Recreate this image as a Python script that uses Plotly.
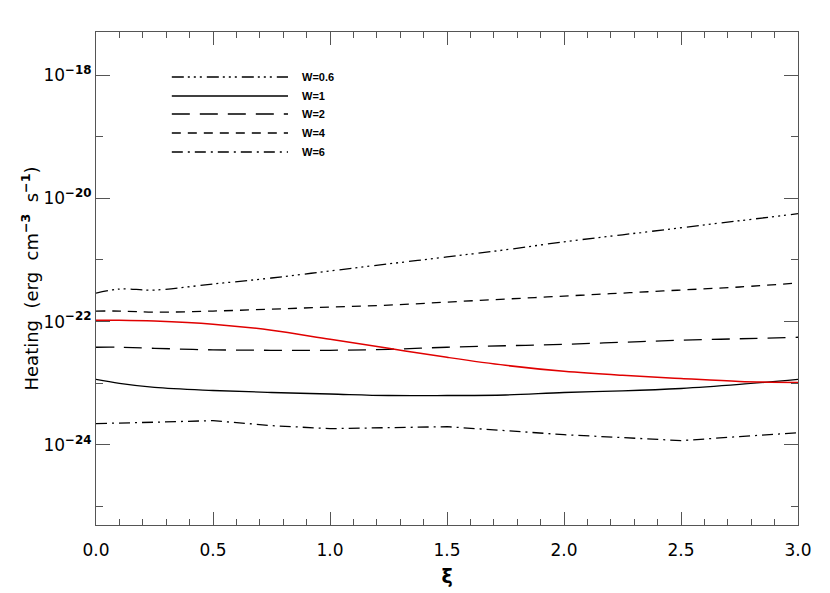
import plotly.graph_objects as go

# xi grid shared by all curves
xi = [0.0, 0.1, 0.25, 0.5, 0.75, 1.0, 1.25, 1.5, 1.75, 2.0, 2.25, 2.5, 2.75, 3.0]

# heating rates (erg cm^-3 s^-1)
heat_w06 = [2.90e-22, 3.37e-22, 3.25e-22, 4.07e-22, 5.09e-22, 6.63e-22, 8.63e-22,
            1.12e-21, 1.46e-21, 1.97e-21, 2.56e-21, 3.33e-21, 4.33e-21, 5.63e-21]
heat_w1 = [1.15e-23, 9.91e-24, 8.53e-24, 7.62e-24, 7.07e-24, 6.68e-24, 6.31e-24,
           6.31e-24, 6.43e-24, 7.07e-24, 7.48e-24, 8.21e-24, 9.55e-24, 1.15e-23]
heat_w2 = [3.83e-23, 3.83e-23, 3.68e-23, 3.48e-23, 3.42e-23, 3.42e-23, 3.55e-23,
           3.83e-23, 4.05e-23, 4.28e-23, 4.62e-23, 4.98e-23, 5.26e-23, 5.57e-23]
heat_w4 = [1.48e-22, 1.48e-22, 1.42e-22, 1.48e-22, 1.59e-22, 1.72e-22, 1.85e-22,
           2.07e-22, 2.32e-22, 2.59e-22, 2.90e-22, 3.25e-22, 3.64e-22, 4.23e-22]
heat_w6 = [2.21e-24, 2.24e-24, 2.33e-24, 2.47e-24, 2.05e-24, 1.83e-24, 1.90e-24,
           1.97e-24, 1.70e-24, 1.46e-24, 1.31e-24, 1.17e-24, 1.36e-24, 1.57e-24]
heat_red = [1.05e-22, 1.05e-22, 1.02e-22, 9.07e-23, 7.24e-23, 5.16e-23, 3.68e-23,
            2.63e-23, 1.95e-23, 1.56e-23, 1.34e-23, 1.19e-23, 1.07e-23, 1.03e-23]

labels = ["W=0.6", "W=1", "W=2", "W=4", "W=6"]
series = [heat_w06, heat_w1, heat_w2, heat_w4, heat_w6]
dashes = ["12px,4px,2px,4px,2px,4px,2px,5px", "solid", "18px,10px", "9px,7px",
          "11px,5px,2px,5px"]
shapes_ = ["spline", "spline", "spline", "spline", "linear"]

ytick_vals = [1e-24, 1e-22, 1e-20, 1e-18]
ytick_text = ["10<sup><b>\u221224</b></sup>", "10<sup><b>\u221222</b></sup>",
              "10<sup><b>\u221220</b></sup>", "10<sup><b>\u221218</b></sup>"]

fig = go.Figure()
for lab, y, d, sh in zip(labels, series, dashes, shapes_):
    fig.add_trace(go.Scatter(x=xi, y=y, mode="lines", name=lab, showlegend=False,
                             line=dict(color="black", width=1.3, dash=d, shape=sh)))
fig.add_trace(go.Scatter(x=xi, y=heat_red, mode="lines", showlegend=False,
                         line=dict(color="#e00000", width=1.5, shape="spline")))

# hand-made legend in the IDL style (long line samples)
leg_y = [0.9087, 0.8702, 0.8337, 0.7951, 0.7566]
for lab, d, ly in zip(labels, dashes, leg_y):
    fig.add_shape(type="line", xref="paper", yref="paper", x0=0.108, x1=0.2735,
                  y0=ly, y1=ly, line=dict(color="black", width=1.3, dash=d))
    fig.add_annotation(xref="paper", yref="paper", x=0.29, y=ly, text="<b>%s</b>" % lab,
                       showarrow=False, xanchor="left", yanchor="middle",
                       font=dict(size=11, family="Liberation Sans", color="black"))

axis_common = dict(showline=True, linecolor="#555", linewidth=1, mirror="allticks",
                   ticks="inside", tickcolor="#555", showgrid=False, zeroline=False,
                   automargin=False,
                   tickfont=dict(size=17, family="DejaVu Sans", color="black"))

fig.update_xaxes(range=[0, 3], tickmode="array",
                 tickvals=[0, 0.5, 1.0, 1.5, 2.0, 2.5, 3.0],
                 ticktext=["0.0", "0.5", "1.0", "1.5", "2.0", "2.5", "3.0"],
                 ticklen=13, ticklabelstandoff=10,
                 minor=dict(dtick=0.1, ticks="inside", ticklen=6, tickcolor="#555"),
                 title=dict(text="<b>\u03be</b>", font=dict(size=19, family="DejaVu Sans",
                                                             color="black"), standoff=10),
                 **axis_common)
fig.update_yaxes(type="log", range=[-25.301, -17.301], tickmode="array",
                 tickvals=ytick_vals, ticktext=ytick_text, ticklen=14,
                 minor=dict(tickmode="array", tickvals=[1e-25, 1e-23, 1e-21, 1e-19],
                            ticks="inside", ticklen=7, tickcolor="#555"),
                 title=dict(text="Heating\u00a0 (erg\u00a0 cm<sup><b>\u22123</b></sup>\u00a0 "
                                 "s<sup><b>\u22121</b></sup>)",
                            font=dict(size=18, family="DejaVu Sans", color="black"),
                            standoff=0),
                 **axis_common)

# the page adds an 8px body margin, so margins are trimmed to keep the frame in place
fig.update_layout(width=830, height=593, plot_bgcolor="white", paper_bgcolor="white",
                  margin=dict(l=88, r=40, t=24, b=76), showlegend=False)

fig.write_html("out.html")
